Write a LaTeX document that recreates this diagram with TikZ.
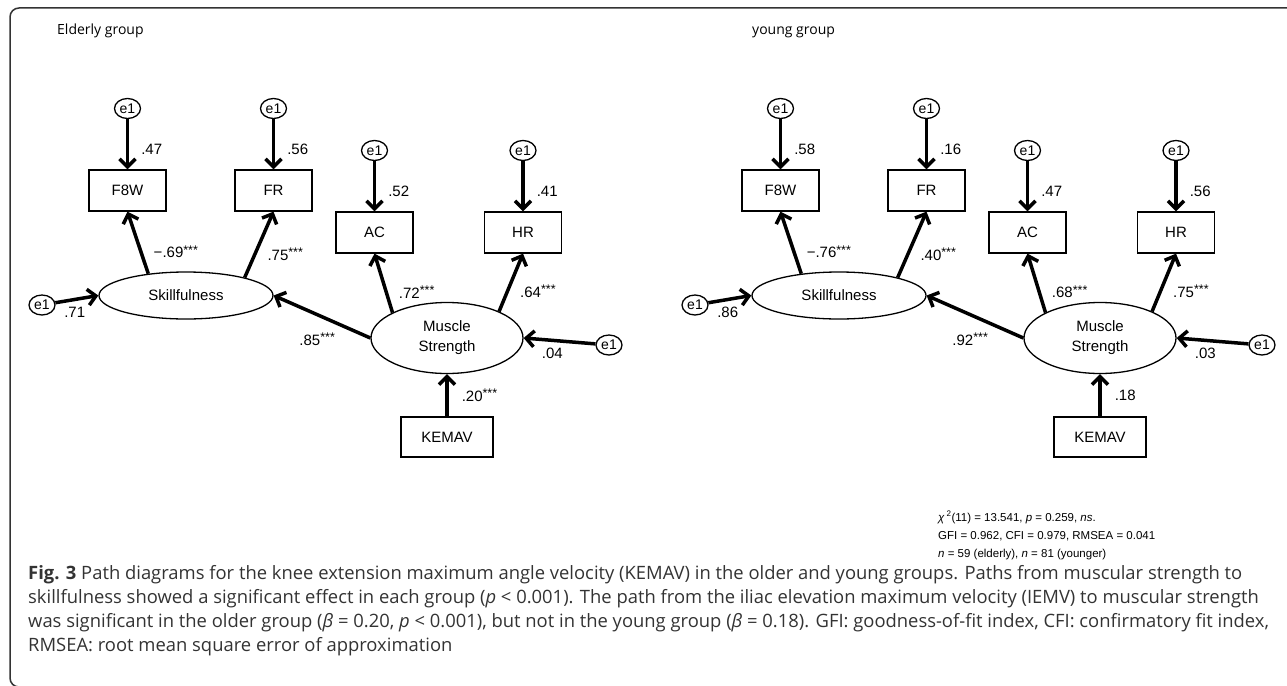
\documentclass[tikz,border=0pt]{standalone}
\usepackage{fontspec}
\setmainfont{Liberation Sans}
\newfontfamily\captionfont{Open Sans}
\usetikzlibrary{arrows.meta,shapes.geometric}

\newcommand*{\sig}{\raisebox{3.5pt}{\fontsize{12.5}{12.5}\selectfont ***}}

\begin{document}
\begin{tikzpicture}[x=1pt, y=-1pt,
	obs/.style={draw, line width=1.3pt, minimum width=77pt, minimum height=41pt, inner sep=0pt, font=\fontsize{15}{18}\selectfont},
	latent/.style={draw, ellipse, line width=1.3pt, minimum width=174pt, minimum height=47pt, inner sep=0pt, align=center, font=\fontsize{15}{20}\selectfont},
	err/.style={draw, ellipse, line width=1.3pt, minimum width=26pt, minimum height=20pt, inner sep=0pt, font=\fontsize{14}{16}\selectfont},
	path/.style={line width=3.5pt, -{Straight Barb[length=8pt,width=16pt]}},
	coef/.style={inner sep=1pt, font=\fontsize{15}{18}\selectfont},
	grouptitle/.style={anchor=west, inner sep=0pt, font=\captionfont\fontsize{14}{16}\selectfont},
	captionline/.style={anchor=base west, inner sep=0pt, text=black!80, font=\captionfont\fontsize{18.4}{22}\selectfont},
]

\useasboundingbox (0,0) rectangle (1287,685);

% one group, same layout for both
\def\groupShift{653}

\newcommand*{\pathmodel}[5]{
	\node[latent] (skill) at (186,295.5) {Skillfulness};
	\node[latent, minimum width=152pt, minimum height=71pt] (strength) at (447,338) {Muscle\\Strength};
	\node[obs, minimum width=92pt, minimum height=40pt] (kemav) at (447,437) {KEMAV};
	\node[err] (eskill) at (42,305) {e1};
	\node[err] (estrength) at (609,345) {e1};
	\foreach \name/\x/\y/\lat/\ang/\ev/\lv in {#1} {
		\node[obs] (\name) at (\x,\y) {\name};
		\node[err] (e\name) at (\x,\y-82) {e1};
		\draw[path] (e\name) -- (\name) node[coef, pos=0.6, anchor=west, xshift=11pt] {\ev};
		\draw[path] (\lat.\ang) -- (\name.south) node[coef, pos=0.35, anchor=west, xshift=10pt] {\lv};
	}
	\draw[path] (eskill) -- (skill.west) node[coef, pos=0.45, below=5pt] {#2};
	\draw[path] (estrength) -- (strength.east) node[coef, pos=0.6, below=5pt] {#3};
	\draw[path] (strength.west) -- (skill.east) node[coef, pos=0.55, below=16pt] {#4};
	\draw[path] (kemav.north) -- (strength.south) node[coef, midway, anchor=west, xshift=12pt] {#5};
}

\node[grouptitle] (oldtitle) at (57,31) {Elderly group};
\node[grouptitle] (youngtitle) at (752,32) {young group};

\begin{scope}[name prefix=old-]
	\pathmodel{F8W/127.5/190.5/skill/150/.47/{−.69\sig},
		FR/273.5/190.5/skill/17/.56/{.75\sig},
		AC/374.5/232.5/strength/155/.52/{.72\sig},
		HR/523/232.5/strength/27/.41/{.64\sig}}
		{.71}{.04}{.85\sig}{.20\sig}
\end{scope}

\begin{scope}[xshift=\groupShift, name prefix=young-]
	\pathmodel{F8W/127.5/190.5/skill/150/.58/{−.76\sig},
		FR/273.5/190.5/skill/17/.16/{.40\sig},
		AC/374.5/232.5/strength/155/.47/{.68\sig},
		HR/523/232.5/strength/27/.56/{.75\sig}}
		{.86}{.03}{.92\sig}{.18}
\end{scope}

\node[anchor=north west, inner sep=0pt, align=left, font=\fontsize{11.5}{18}\selectfont] (fit) at (938,511)
	{\textit{χ}\,\textsuperscript{2}(11) = 13.541, \textit{p} = 0.259, \textit{ns}.\\
	GFI = 0.962, CFI = 0.979, RMSEA = 0.041\\
	\textit{n} = 59 (elderly), \textit{n} = 81 (younger)};

\foreach \capline [count=\i] in {
	{\textbf{Fig. 3} Path diagrams for the knee extension maximum angle velocity (KEMAV) in the older and young groups. Paths from muscular strength to},
	{skillfulness showed a significant effect in each group (\textit{p} < 0.001). The path from the iliac elevation maximum velocity (IEMV) to muscular strength},
	{was significant in the older group (\textit{β} = 0.20, \textit{p} < 0.001), but not in the young group (\textit{β} = 0.18). GFI: goodness-of-fit index, CFI: confirmatory fit index,},
	{RMSEA: root mean square error of approximation}}
	\node[captionline] (cap\i) at (28,555+24.2*\i) {\capline};

\draw[line width=1.5pt, black!80, rounded corners=9pt] (1290,8) -- (10,8) -- (10,687) -- (40,687);

\end{tikzpicture}
\end{document}
